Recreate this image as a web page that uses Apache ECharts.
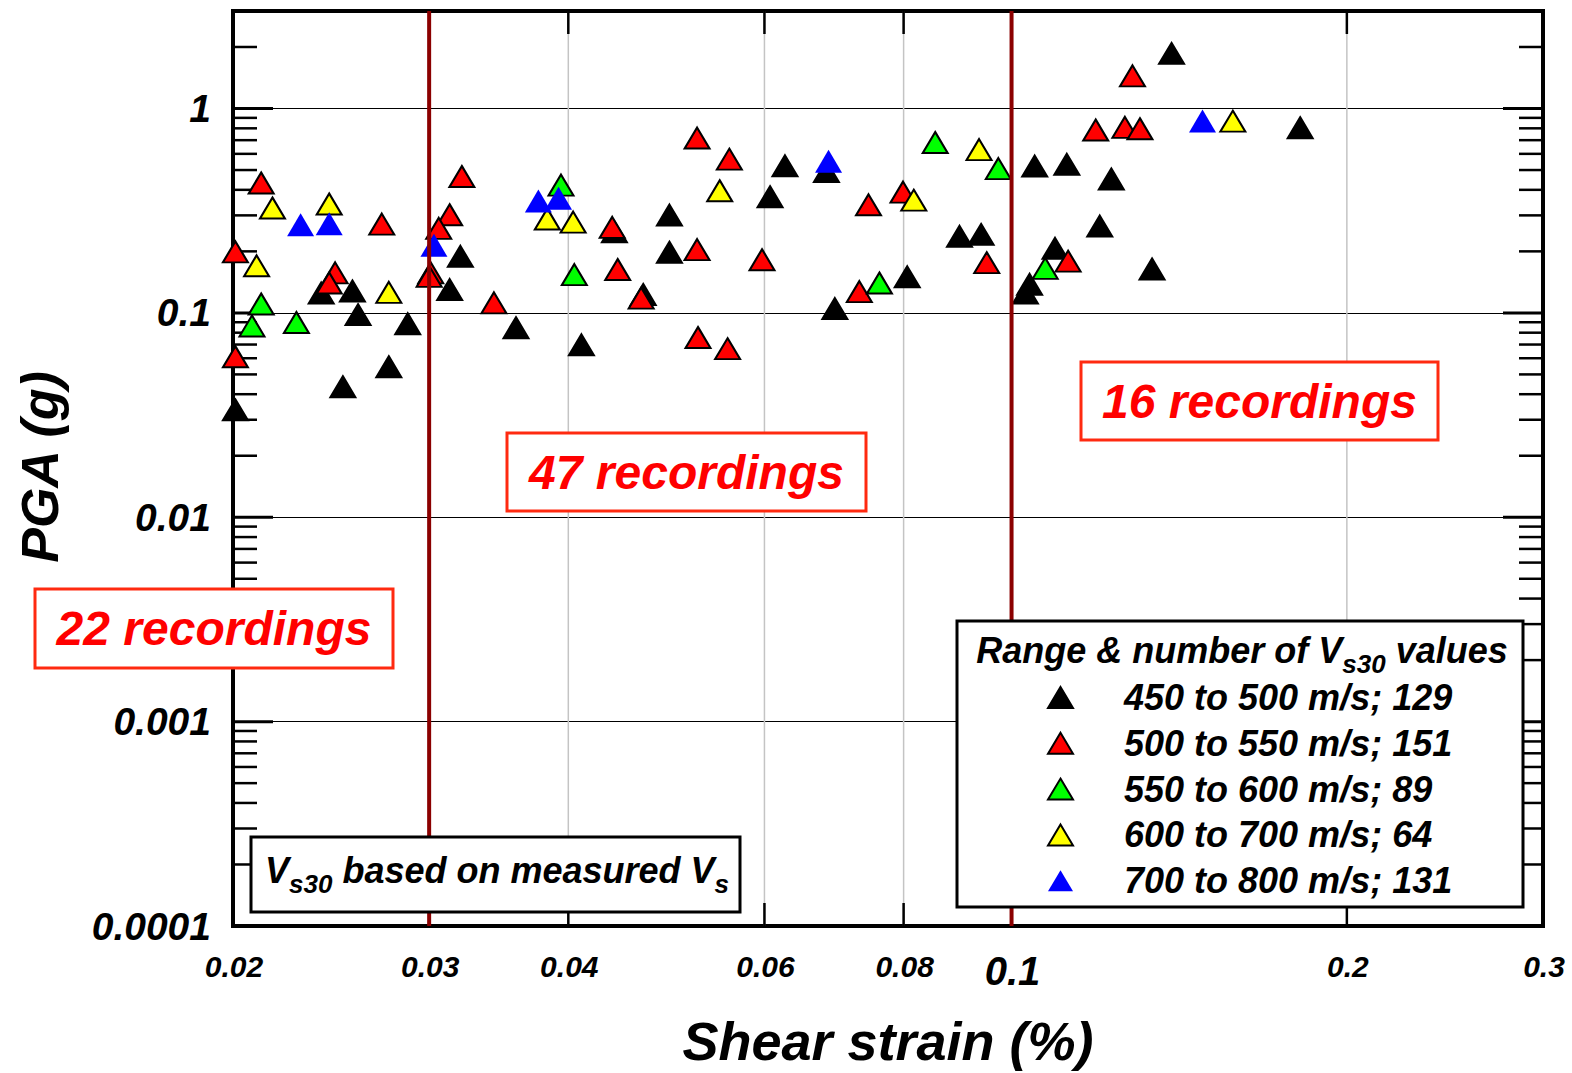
<!DOCTYPE html>
<html>
<head>
<meta charset="utf-8">
<script src="https://cdn.jsdelivr.net/npm/echarts@6.0.0/dist/echarts.min.js"></script>
<style>
  html, body { margin: 0; padding: 0; background: #ffffff; }
  #chart { width: 1572px; height: 1073px; }
</style>
</head>
<body>
<div id="chart"></div>
<script>
// Axis ranges (log scales on both axes)
const X_MIN = 0.02, X_MAX = 0.3;
const Y_MIN = 0.0001, Y_MAX = 3;

// Shear strain tick labels along the bottom
const X_TICKS = [0.02, 0.03, 0.04, 0.06, 0.08, 0.1, 0.2, 0.3];
const X_TICK_LABELS = ['0.02', '0.03', '0.04', '0.06', '0.08', '0.1', '0.2', '0.3'];
// Light grey vertical guides with short ticks on top and bottom
const X_GUIDES = [0.04, 0.06, 0.08, 0.2];
// Strain thresholds splitting the recordings into groups
const STRAIN_LIMITS = [0.03, 0.1];

// PGA ticks: decades get long ticks, 2..9 multiples get short ones
const Y_MAJOR_TICKS = [0.001, 0.01, 0.1, 1];
const Y_MINOR_TICKS = [
  0.0002, 0.0003, 0.0004, 0.0005, 0.0006, 0.0007, 0.0008, 0.0009,
  0.002, 0.003, 0.004, 0.005, 0.006, 0.007, 0.008, 0.009,
  0.02, 0.03, 0.04, 0.05, 0.06, 0.07, 0.08, 0.09,
  0.2, 0.3, 0.4, 0.5, 0.6, 0.7, 0.8, 0.9,
  2
];

// Recordings: [shear strain (%), PGA (g)] grouped by Vs30 range
const vs450to500 = [
  [0.0201, 0.0335], [0.0240, 0.125], [0.0256, 0.128], [0.0259, 0.098],
  [0.0251, 0.0435], [0.0276, 0.0545], [0.0287, 0.0885], [0.0320, 0.189],
  [0.0313, 0.130], [0.0359, 0.0846], [0.0411, 0.0697], [0.0440, 0.249],
  [0.0467, 0.123], [0.0493, 0.301], [0.0493, 0.198], [0.0626, 0.524],
  [0.0607, 0.370], [0.0682, 0.491], [0.0694, 0.105], [0.0806, 0.150],
  [0.0898, 0.237], [0.0939, 0.242], [0.1049, 0.523], [0.1121, 0.533],
  [0.1229, 0.452], [0.1200, 0.266], [0.1094, 0.207], [0.1038, 0.138],
  [0.1029, 0.125], [0.1337, 0.164], [0.1392, 1.86], [0.1816, 0.805]
];
const vs500to550 = [
  [0.0201, 0.199], [0.0201, 0.0610], [0.0212, 0.432], [0.0247, 0.157],
  [0.0244, 0.140], [0.0272, 0.272], [0.0321, 0.465], [0.0313, 0.302],
  [0.0306, 0.259], [0.0301, 0.157], [0.0300, 0.151], [0.0343, 0.112],
  [0.0438, 0.262], [0.0443, 0.163], [0.0465, 0.118], [0.0522, 0.717],
  [0.0522, 0.204], [0.0523, 0.0758], [0.0558, 0.565], [0.0556, 0.0668],
  [0.0597, 0.182], [0.0744, 0.338], [0.0799, 0.390], [0.0730, 0.127],
  [0.0950, 0.176], [0.1124, 0.179], [0.1190, 0.785], [0.1264, 0.809],
  [0.1304, 0.796], [0.1284, 1.445]
];
const vs550to600 = [
  [0.0212, 0.1105], [0.0208, 0.0863], [0.0228, 0.0897], [0.0394, 0.422],
  [0.0405, 0.154], [0.0761, 0.140], [0.0854, 0.682], [0.0973, 0.508],
  [0.1072, 0.165]
];
const vs600to700 = [
  [0.0217, 0.326], [0.0210, 0.170], [0.0244, 0.341], [0.0276, 0.126],
  [0.0383, 0.288], [0.0404, 0.278], [0.0547, 0.396], [0.0817, 0.356],
  [0.0935, 0.629], [0.1580, 0.867]
];
const vs700to800 = [
  [0.0230, 0.270], [0.0244, 0.273], [0.0303, 0.214], [0.0376, 0.353],
  [0.0392, 0.364], [0.0685, 0.552], [0.1484, 0.869]
];

const SERIES_NAMES = [
  '450 to 500 m/s; 129',
  '500 to 550 m/s; 151',
  '550 to 600 m/s; 89',
  '600 to 700 m/s; 64',
  '700 to 800 m/s; 131'
];

const FONT_FAMILY = '"Liberation Sans", Arial, Helvetica, sans-serif';
function bi(size) {
  return { fontSize: size, fontWeight: 'bold', fontStyle: 'italic', fontFamily: FONT_FAMILY };
}

function triangleSeries(name, data, fill, outlined) {
  return {
    name: name,
    type: 'scatter',
    data: data,
    symbol: 'triangle',
    symbolSize: outlined ? [25, 21] : [27, 23],
    itemStyle: outlined
      ? { color: fill, borderColor: '#000000', borderWidth: 2, opacity: 1 }
      : { color: fill, borderWidth: 0, opacity: 1 },
    z: 3,
    silent: true
  };
}

// Long/short ticks drawn inward on the left and right frame
function renderYTick(params, api) {
  const cs = params.coordSys;
  const y = api.coord([api.value(0), api.value(1)])[1];
  const major = api.value(2) === 1;
  const len = major ? 40 : 24;
  const style = { stroke: '#000000', lineWidth: major ? 3 : 2.5 };
  return {
    type: 'group',
    children: [
      { type: 'line', shape: { x1: cs.x, y1: y, x2: cs.x + len, y2: y }, style: style },
      { type: 'line', shape: { x1: cs.x + cs.width, y1: y, x2: cs.x + cs.width - len, y2: y }, style: style }
    ]
  };
}

// Grey vertical guide plus inward ticks at top and bottom
function renderXGuide(params, api) {
  const cs = params.coordSys;
  const x = api.coord([api.value(0), api.value(1)])[0];
  const top = cs.y, bottom = cs.y + cs.height;
  return {
    type: 'group',
    children: [
      { type: 'line', shape: { x1: x, y1: top, x2: x, y2: bottom }, style: { stroke: '#c4c4c4', lineWidth: 1.5 } },
      { type: 'line', shape: { x1: x, y1: top, x2: x, y2: top + 23 }, style: { stroke: '#000000', lineWidth: 2.5 } },
      { type: 'line', shape: { x1: x, y1: bottom, x2: x, y2: bottom - 23 }, style: { stroke: '#000000', lineWidth: 2.5 } }
    ]
  };
}

// Strain labels under the frame; 0.1 is set larger
function renderXLabel(params, api) {
  const cs = params.coordSys;
  const x = api.coord([api.value(0), api.value(1)])[0];
  const label = X_TICK_LABELS[params.dataIndex];
  const big = label === '0.1';
  return {
    type: 'text',
    x: x + 1,
    y: cs.y + cs.height + (big ? 45 : 40),
    style: Object.assign({
      text: label,
      fill: '#000000',
      align: 'center', textAlign: 'center',
      verticalAlign: 'middle', textVerticalAlign: 'middle'
    }, bi(big ? 40 : 30))
  };
}

function labelBox(x, y, w, h, text) {
  return [
    { type: 'rect', z: 100, shape: { x: x, y: y, width: w, height: h },
      style: { fill: '#ffffff', stroke: '#ff2a10', lineWidth: 3 } },
    { type: 'text', z: 101, x: x + w / 2, y: y + h / 2,
      style: Object.assign({ text: text, fill: '#ff0000',
        align: 'center', textAlign: 'center', verticalAlign: 'middle', textVerticalAlign: 'middle' }, bi(48)) }
  ];
}

const chart = echarts.init(document.getElementById('chart'), null, { renderer: 'svg' });

const option = {
  animation: false,
  backgroundColor: '#ffffff',
  grid: {
    left: 233, top: 11, width: 1310, height: 915,
    show: true, borderColor: '#000000', borderWidth: 4, backgroundColor: 'transparent',
    containLabel: false, outerBoundsMode: 'none'
  },
  xAxis: {
    type: 'log', logBase: 10, min: X_MIN, max: X_MAX,
    axisLine: { show: false }, axisTick: { show: false },
    axisLabel: { show: false }, splitLine: { show: false }, minorTick: { show: false }
  },
  yAxis: {
    type: 'log', logBase: 10, min: Y_MIN, max: Y_MAX,
    axisLine: { show: false }, axisTick: { show: false },
    axisLabel: Object.assign({
      margin: 22, color: '#000000',
      formatter: function (v) { return v > 1.5 ? '' : String(parseFloat(Number(v).toPrecision(3))); }
    }, bi(39)),
    splitLine: { show: true, lineStyle: { color: '#000000', width: 1.2 } }
  },
  legend: {
    data: SERIES_NAMES,
    orient: 'vertical',
    left: 1047, top: 679.5,
    padding: 0,
    itemWidth: 25, itemHeight: 21, itemGap: 9.8,
    symbolKeepAspect: false,
    selectedMode: false,
    z: 200,
    textStyle: Object.assign({ color: '#000000', lineHeight: 21, padding: [0, 0, 0, 46] }, bi(36))
  },
  graphic: {
    elements: [
      // Vs30 range legend frame and heading
      { type: 'rect', z: 100, shape: { x: 957, y: 621, width: 566, height: 286 },
        style: { fill: '#ffffff', stroke: '#000000', lineWidth: 3 } },
      { type: 'text', z: 101, x: 1242, y: 650.5,
        style: {
          text: '{m|Range & number of V}{s|s30}{m| values}',
          align: 'center', textAlign: 'center', verticalAlign: 'middle', textVerticalAlign: 'middle',
          rich: {
            m: Object.assign({ fill: '#000000' }, bi(36)),
            s: Object.assign({ fill: '#000000', padding: [26, 0, 0, 0] }, bi(26))
          }
        } },
      // Note about Vs30 source
      { type: 'rect', z: 100, shape: { x: 251, y: 837, width: 489, height: 75 },
        style: { fill: '#ffffff', stroke: '#000000', lineWidth: 3 } },
      { type: 'text', z: 101, x: 265, y: 870,
        style: {
          text: '{m|V}{s|s30}{m| based on measured V}{s|s}',
          align: 'left', textAlign: 'left', verticalAlign: 'middle', textVerticalAlign: 'middle',
          rich: {
            m: Object.assign({ fill: '#000000' }, bi(36)),
            s: Object.assign({ fill: '#000000', padding: [28, 0, 0, 0] }, bi(26))
          }
        } }
    ]
      .concat(labelBox(35, 589, 358, 79, '22 recordings'))
      .concat(labelBox(507, 433, 359, 78, '47 recordings'))
      .concat(labelBox(1081, 362, 357, 78, '16 recordings'))
      .concat([
        { type: 'text', z: 101, x: 40, y: 467, rotation: Math.PI / 2,
          style: Object.assign({ text: 'PGA (g)', fill: '#000000',
            align: 'center', textAlign: 'center', verticalAlign: 'middle', textVerticalAlign: 'middle' }, bi(52)) },
        { type: 'text', z: 101, x: 888, y: 1041,
          style: Object.assign({ text: 'Shear strain (%)', fill: '#000000',
            align: 'center', textAlign: 'center', verticalAlign: 'middle', textVerticalAlign: 'middle' }, bi(54)) }
      ])
  },
  series: [
    {
      type: 'custom', name: 'xGuides', silent: true, z: 1,
      renderItem: renderXGuide,
      data: X_GUIDES.map(function (v) { return [v, Y_MIN]; }),
      encode: { x: 0, y: 1 }
    },
    {
      type: 'custom', name: 'yTicks', silent: true, z: 1,
      renderItem: renderYTick,
      data: Y_MINOR_TICKS.map(function (v) { return [X_MIN, v, 0]; })
        .concat(Y_MAJOR_TICKS.map(function (v) { return [X_MIN, v, 1]; })),
      encode: { x: 0, y: 1 }
    },
    {
      type: 'custom', name: 'xLabels', silent: true, z: 1, clip: false,
      renderItem: renderXLabel,
      data: X_TICKS.map(function (v) { return [v, Y_MIN]; }),
      encode: { x: 0, y: 1 }
    },
    triangleSeries(SERIES_NAMES[0], vs450to500, '#000000', true),
    triangleSeries(SERIES_NAMES[1], vs500to550, '#ff0000', true),
    triangleSeries(SERIES_NAMES[2], vs550to600, '#00ff00', true),
    triangleSeries(SERIES_NAMES[3], vs600to700, '#ffff00', true),
    triangleSeries(SERIES_NAMES[4], vs700to800, '#0000ff', false)
  ].concat(STRAIN_LIMITS.map(function (v) {
    return {
      type: 'line', name: 'limit ' + v, silent: true, z: 6,
      symbol: 'none',
      data: [[v, Y_MIN], [v, Y_MAX]],
      lineStyle: { color: '#8b0000', width: 4 }
    };
  }))
};

chart.setOption(option);
</script>
</body>
</html>
